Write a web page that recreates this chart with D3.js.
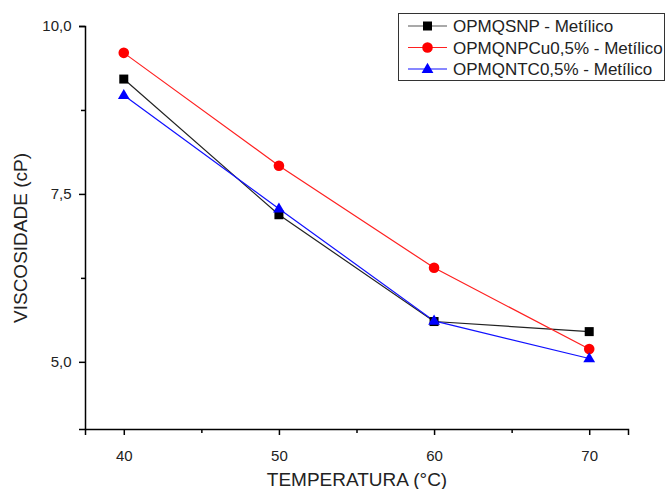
<!DOCTYPE html>
<html>
<head>
<meta charset="utf-8">
<script src="https://cdn.jsdelivr.net/npm/d3@7"></script>
<style>
  body { margin: 0; background: #fff; }
  svg { display: block; font-family: "Liberation Sans", Arial, sans-serif; }
</style>
</head>
<body>
<svg id="chart"></svg>
<script>
// data
const temperatures = [40, 50, 60, 70];
const opmqsnp = [9.21, 7.19, 5.60, 5.45];
const opmqnpcu = [9.60, 7.92, 6.40, 5.19];
const opmqntc = [8.97, 7.28, 5.61, 5.05];
const seriesNames = ['OPMQSNP - Metílico', 'OPMQNPCu0,5% - Metílico', 'OPMQNTC0,5% - Metílico'];
const xTicks = [40, 50, 60, 70];
const yTicks = [5, 7.5, 10];

const width = 668, height = 489;
const margin = { top: 26, right: 40, bottom: 60, left: 85 };

const svg = d3.select('#chart')
  .attr('width', width)
  .attr('height', height);

svg.append('rect').attr('width', width).attr('height', height).attr('fill', '#fff');

const x = d3.scaleLinear().domain([37.5, 72.5]).range([85, 628]);
const y = d3.scaleLinear().domain([4, 10]).range([429, 26]);

const series = [
  { name: seriesNames[0], values: opmqsnp, color: '#000', lineColor: '#222', shape: 'square' },
  { name: seriesNames[1], values: opmqnpcu, color: '#ff0000', lineColor: '#ff2020', shape: 'circle' },
  { name: seriesNames[2], values: opmqntc, color: '#0000ff', lineColor: '#1010ff', shape: 'triangle' }
];

// Axes
const xAxis = d3.axisBottom(x).tickValues(xTicks).tickSize(6).tickFormat(d3.format('d'));
const xMinor = d3.axisBottom(x).tickValues([45, 55, 65]).tickSize(4).tickFormat('');
const yAxis = d3.axisLeft(y).tickValues(yTicks).tickSize(6)
  .tickFormat(d => d.toFixed(1).replace('.', ','));
const yMinor = d3.axisLeft(y).tickValues([6.25, 8.75]).tickSize(4).tickFormat('');

function styleAxis(g) {
  g.select('.domain').attr('stroke', '#000').attr('stroke-width', 1.5);
  g.selectAll('.tick line').attr('stroke', '#000').attr('stroke-width', 1.5);
  g.selectAll('.tick text').attr('fill', '#222').style('font-size', '15px')
    .style('font-family', '"Liberation Sans", Arial, sans-serif');
}

svg.append('g').attr('transform', `translate(0,${y(4)})`).call(xAxis).call(styleAxis)
  .selectAll('.tick text').attr('dy', '1.55em');
svg.append('g').attr('transform', `translate(0,${y(4)})`).call(xMinor).call(styleAxis)
  .select('.domain').remove();
svg.append('g').attr('transform', `translate(${x(37.5)},0)`).call(yAxis).call(styleAxis)
  .selectAll('.tick text').attr('dx', '-0.3em');
svg.append('g').attr('transform', `translate(${x(37.5)},0)`).call(yMinor).call(styleAxis)
  .select('.domain').remove();

// Axis titles
svg.append('text')
  .attr('x', 357).attr('y', 486)
  .attr('text-anchor', 'middle')
  .style('font-size', '19px')
  .attr('fill', '#222')
  .text('TEMPERATURA (°C)');

svg.append('text')
  .attr('transform', 'rotate(-90)')
  .attr('x', -238).attr('y', 27)
  .attr('text-anchor', 'middle')
  .style('font-size', '19px')
  .attr('fill', '#222')
  .text('VISCOSIDADE (cP)');

function marker(g, shape, color, cx, cy) {
  if (shape === 'square') {
    g.append('rect').attr('x', cx - 4.5).attr('y', cy - 4.5).attr('width', 9).attr('height', 9).attr('fill', color);
  } else if (shape === 'circle') {
    g.append('circle').attr('cx', cx).attr('cy', cy).attr('r', 5.3).attr('fill', color);
  } else {
    g.append('path')
      .attr('d', d3.symbol().type(d3.symbolTriangle).size(60)())
      .attr('transform', `translate(${cx},${cy + 0.5})`)
      .attr('fill', color);
  }
}

const line = d3.line().x((d, i) => x(temperatures[i])).y(d => y(d));

series.forEach(s => {
  svg.append('path')
    .datum(s.values)
    .attr('d', line)
    .attr('fill', 'none')
    .attr('stroke', s.lineColor)
    .attr('stroke-width', 1.2);
});
series.forEach(s => {
  const g = svg.append('g');
  s.values.forEach((v, i) => marker(g, s.shape, s.color, x(temperatures[i]), y(v)));
});

// Legend
const legend = svg.append('g');
legend.append('rect')
  .attr('x', 398.5).attr('y', 13.5)
  .attr('width', 266).attr('height', 67)
  .attr('fill', '#fff')
  .attr('stroke', '#333')
  .attr('stroke-width', 1);

series.forEach((s, i) => {
  const ly = 26 + i * 21.5;
  legend.append('line')
    .attr('x1', 408).attr('x2', 447)
    .attr('y1', ly).attr('y2', ly)
    .attr('stroke', i === 0 ? '#555' : s.lineColor)
    .attr('stroke-width', 1.2);
  marker(legend, s.shape, s.color, 427.5, ly);
  legend.append('text')
    .attr('x', 453).attr('y', ly + 6)
    .style('font-size', '17px')
    .attr('fill', '#222')
    .text(s.name);
});
</script>
</body>
</html>
